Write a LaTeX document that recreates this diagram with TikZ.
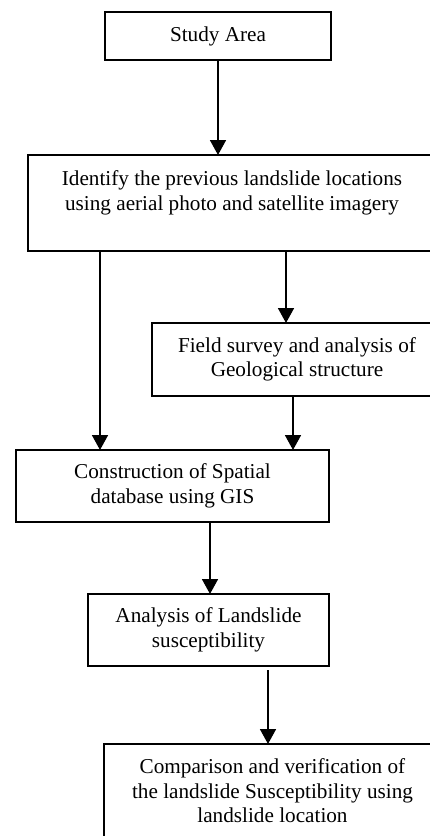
\documentclass[tikz,border=0pt]{standalone}
\usepackage{fontspec}
\setmainfont{Liberation Serif}
\usepackage{xcolor}
\definecolor{cLine}{HTML}{000000}
\usepackage{tikz}
\usetikzlibrary{positioning,arrows.meta}
\tikzset{
  node-box/.style={draw=cLine,line width=1.6pt,rectangle,align=center,
    inner sep=0pt,outer sep=0pt,minimum height=72pt},
  arrow/.style={-{Triangle[length=15pt,width=16pt]},line width=1.7pt,draw=cLine},
}

\begin{document}
\begin{tikzpicture}[x=1pt,y=1pt,font=\fontsize{21.2pt}{24.5pt}\selectfont]
  \useasboundingbox (0,0) rectangle (430,-836);
  \clip (0,0) rectangle (430,-836);
  \node[node-box,minimum width=226pt,minimum height=48pt] (area) at (218,-36) {Study Area};
  \node[node-box,minimum width=408pt,minimum height=96pt,below=95pt of area,xshift=14pt] (ident)
       {Identify the previous landslide locations\\using aerial photo and satellite imagery\\ ~};
  \node[node-box,minimum width=290pt,minimum height=73pt,below=72pt of ident,xshift=65pt] (field)
       {Field survey and analysis of\\Geological structure};
  \node[node-box,minimum width=313pt,below=54pt of field,xshift=-124.5pt] (gis)
       {Construction of Spatial\\database using GIS};
  \node[node-box,minimum width=241pt,below=72pt of gis,xshift=36pt] (suscept)
       {Analysis of Landslide\\susceptibility};
  \node[node-box,minimum width=337pt,minimum height=94pt,below=78pt of suscept,xshift=64pt] (verify)
       {Comparison and verification of\\the landslide Susceptibility using\\landslide location};
  \draw[arrow] (area) -- (area |- ident.north);
  \draw[arrow] ([xshift=54pt]ident.south) -- ([xshift=54pt]ident.south |- field.north);
  \draw[arrow] ([xshift=-132pt]ident.south) -- ([xshift=-132pt]ident.south |- gis.north);
  \draw[arrow] ([xshift=-4pt]field.south) -- ([xshift=-4pt]field.south |- gis.north);
  \draw[arrow] ([xshift=1.5pt]gis.south -| suscept.north) -- ([xshift=1.5pt]suscept.north);
  \draw[arrow] ([xshift=59.5pt,yshift=-4pt]suscept.south) -- ([xshift=59.5pt]suscept.south |- verify.north);
\end{tikzpicture}
\end{document}
